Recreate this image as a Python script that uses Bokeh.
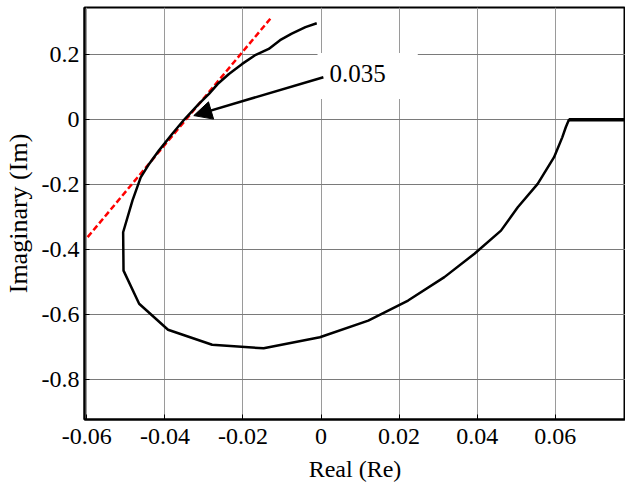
from bokeh.plotting import figure
from bokeh.models import Range1d, FixedTicker, Label, Arrow, NormalHead
from bokeh.embed import file_html
from bokeh.resources import INLINE

# Nyquist-like locus (Real, Imag)
re_vals = [-0.0011, -0.0040, -0.0075, -0.0105, -0.0134, -0.0170, -0.0202, -0.0236,
           -0.0265, -0.0287, -0.0313, -0.0351, -0.0381, -0.0415, -0.0440, -0.0462,
           -0.0483, -0.0507, -0.0506, -0.0466, -0.0392, -0.0279, -0.0147, -0.0003,
           0.0121, 0.0223, 0.0316, 0.0393, 0.0461, 0.0504, 0.0555, 0.0597,
           0.0618, 0.0627, 0.0635, 0.0780]
im_vals = [0.297, 0.285, 0.265, 0.245, 0.218, 0.198, 0.172, 0.141,
           0.110, 0.080, 0.049, 0.000, -0.043, -0.094, -0.135, -0.177,
           -0.248, -0.346, -0.464, -0.566, -0.646, -0.692, -0.703, -0.669,
           -0.618, -0.556, -0.484, -0.412, -0.341, -0.269, -0.197, -0.115,
           -0.054, -0.023, 0.000, 0.000]

# red dashed tangent line
tangent_re = [-0.0598, -0.0130]
tangent_im = [-0.361, 0.311]

# annotation
note_text = "0.035"
note_re, note_im = -0.0009, 0.135
arrow_from = (0.0006, 0.131)
arrow_to = (-0.0326, 0.013)

x_ticks = [-0.06, -0.04, -0.02, 0.0, 0.02, 0.04, 0.06]
x_tick_labels = ["-0.06", "-0.04", "-0.02", "0", "0.02", "0.04", "0.06"]
y_ticks = [-0.8, -0.6, -0.4, -0.2, 0.0, 0.2]
y_tick_labels = ["-0.8", "-0.6", "-0.4", "-0.2", "0", "0.2"]

FONT = '"Liberation Serif"'

p = figure(width=625, height=486, output_backend="svg", toolbar_location=None,
           x_range=Range1d(-0.0606, 0.078), y_range=Range1d(-0.922, 0.3455),
           min_border_left=82, min_border_right=0, min_border_top=7, min_border_bottom=67)

p.background_fill_color = "white"
p.border_fill_color = "white"
p.outline_line_color = "black"
p.outline_line_width = 2

p.xaxis.ticker = FixedTicker(ticks=x_ticks)
p.yaxis.ticker = FixedTicker(ticks=y_ticks)
p.xaxis.major_label_overrides = {t: l for t, l in zip(x_ticks, x_tick_labels)}
p.yaxis.major_label_overrides = {t: l for t, l in zip(y_ticks, y_tick_labels)}

for ax in (p.xaxis, p.yaxis):
    ax.axis_line_color = "black"
    ax.axis_line_width = 2
    ax.major_tick_in = 5
    ax.major_tick_out = 0
    ax.major_tick_line_color = "black"
    ax.minor_tick_line_color = None
    ax.major_label_text_font = FONT
    ax.major_label_text_font_size = "24px"
    ax.major_label_text_color = "black"
    ax.axis_label_text_font = FONT
    ax.axis_label_text_font_style = "normal"
    ax.axis_label_text_color = "black"

p.xaxis.axis_label = "Real (Re)"
p.yaxis.axis_label = "Imaginary (Im)"
p.xaxis.axis_label_text_font_size = "24px"
p.yaxis.axis_label_text_font_size = "26px"
p.xaxis.major_label_standoff = 9
p.xaxis.axis_label_standoff = 9
p.yaxis.major_label_standoff = 5
p.yaxis.axis_label_standoff = 6

p.xgrid.grid_line_color = "#9a9a9a"
p.ygrid.grid_line_color = "#7a7a7a"
p.xgrid.grid_line_width = 1
p.ygrid.grid_line_width = 1

# annotation label with white background box
lbl = Label(x=note_re, y=note_im, text=note_text, text_font=FONT, text_font_size="25px",
            text_color="black", text_align="left", text_baseline="middle",
            background_fill_color="white", background_fill_alpha=1.0,
            padding=(12, 32, 12, 17))
p.add_layout(lbl)

p.line(tangent_re, tangent_im, line_color="#ff0000", line_width=2.5, line_dash="6 3")
p.line(re_vals, im_vals, line_color="black", line_width=2.5)
p.line(re_vals[-2:], im_vals[-2:], line_color="black", line_width=3.5)

p.add_layout(Arrow(end=NormalHead(size=18, fill_color="black", line_color="black"),
                   x_start=arrow_from[0], y_start=arrow_from[1],
                   x_end=arrow_to[0], y_end=arrow_to[1],
                   line_color="black", line_width=2.5))

open("out.html", "w").write(file_html(p, INLINE))
